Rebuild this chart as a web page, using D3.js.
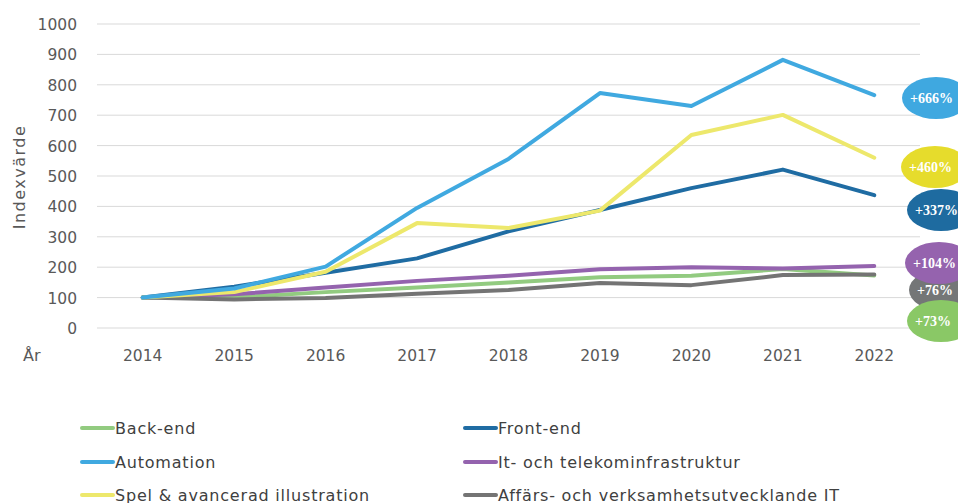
<!DOCTYPE html>
<html>
<head>
<meta charset="utf-8">
<script src="https://cdn.jsdelivr.net/npm/d3@7"></script>
<style>
  body { margin: 0; background: #fff; }
  .lbl { font-family: "DejaVu Sans", sans-serif; }
  .badge { font-family: "Liberation Serif", "DejaVu Serif", serif; font-weight: bold; }
</style>
</head>
<body>
<div id="chart"></div>
<script>
// data
const years = ["2014", "2015", "2016", "2017", "2018", "2019", "2020", "2021", "2022"];
const yTicks = [0, 100, 200, 300, 400, 500, 600, 700, 800, 900, 1000];

const backEnd = [100, 101, 118, 133, 150, 167, 172, 194, 173];
const frontEnd = [100, 136, 182, 229, 318, 388, 460, 521, 437];
const automation = [100, 130, 202, 395, 556, 773, 730, 882, 766];
const itTelekom = [100, 111, 133, 155, 172, 193, 200, 196, 204];
const spel = [100, 118, 185, 345, 329, 386, 635, 701, 560];
const affars = [100, 94, 99, 113, 125, 148, 141, 174, 176];

const seriesNames = ["Back-end", "Front-end", "Automation", "It- och telekominfrastruktur",
  "Spel & avancerad illustration", "Affärs- och verksamhetsutvecklande IT"];
const seriesValues = [backEnd, frontEnd, automation, itTelekom, spel, affars];
const seriesColors = ["#92cb80", "#1f6ca3", "#40a9e0", "#9463ae", "#ede86c", "#747474"];

// badges at the right edge, drawn in this order
const badgeLabels = ["+666%", "+460%", "+337%", "+76%", "+104%", "+73%"];
const badgeColors = ["#3fa8e0", "#e6dc2c", "#1e6ba0", "#747677", "#9563ae", "#8ac866"];
const badgeY = [98, 167, 210, 290, 263, 321];
const badgeX = [936, 935, 941, 943, 939, 941];

const width = 958, height = 503;
const svg = d3.select("#chart").append("svg")
  .attr("width", width)
  .attr("height", height);

const x = d3.scalePoint().domain(years).range([97, 920]).padding(0.5);
const y = d3.scaleLinear().domain([0, 1000]).range([328, 24]);

// gridlines
svg.append("g").selectAll("line")
  .data(yTicks)
  .enter().append("line")
  .attr("x1", 97).attr("x2", 920)
  .attr("y1", d => y(d)).attr("y2", d => y(d))
  .attr("stroke", "#d9d9d9")
  .attr("stroke-width", 1);

// y tick labels
svg.append("g").selectAll("text")
  .data(yTicks)
  .enter().append("text")
  .attr("class", "lbl")
  .attr("x", 77)
  .attr("y", d => y(d) + 6)
  .attr("text-anchor", "end")
  .attr("font-size", 15.5)
  .attr("fill", "#595959")
  .text(d => d);

// x tick labels
svg.append("g").selectAll("text")
  .data(years)
  .enter().append("text")
  .attr("class", "lbl")
  .attr("x", d => x(d))
  .attr("y", 361)
  .attr("text-anchor", "middle")
  .attr("font-size", 15.5)
  .attr("fill", "#595959")
  .text(d => d);

svg.append("text")
  .attr("class", "lbl")
  .attr("x", 23).attr("y", 361)
  .attr("font-size", 16)
  .attr("fill", "#595959")
  .text("År");

svg.append("text")
  .attr("class", "lbl")
  .attr("transform", "translate(25,177) rotate(-90)")
  .attr("text-anchor", "middle")
  .attr("font-size", 16)
  .attr("letter-spacing", 1.5)
  .attr("fill", "#595959")
  .text("Indexvärde");

// lines
const line = d3.line()
  .x((d, i) => x(years[i]))
  .y(d => y(d));

const drawOrder = [0, 3, 5, 1, 4, 2];
svg.append("g").selectAll("path")
  .data(drawOrder)
  .enter().append("path")
  .attr("d", k => line(seriesValues[k]))
  .attr("fill", "none")
  .attr("stroke", k => seriesColors[k])
  .attr("stroke-width", 4)
  .attr("stroke-linejoin", "round")
  .attr("stroke-linecap", "round");

// badges
const badge = svg.append("g").selectAll("g")
  .data(badgeLabels)
  .enter().append("g")
  .attr("transform", (d, i) => "translate(" + badgeX[i] + "," + badgeY[i] + ")");

badge.append("ellipse")
  .attr("rx", 34)
  .attr("ry", 21)
  .attr("fill", (d, i) => badgeColors[i]);

badge.append("text")
  .attr("class", "badge")
  .attr("x", -26)
  .attr("y", 5)
  .attr("font-size", 14)
  .attr("fill", "#fff")
  .text(d => d);

// legend
const legendX = [82, 465];
const legendY = [428, 462, 495];
const legend = svg.append("g").selectAll("g")
  .data(seriesNames)
  .enter().append("g")
  .attr("transform", (d, i) => "translate(" + legendX[i % 2] + "," + legendY[Math.floor(i / 2)] + ")");

legend.append("line")
  .attr("x1", 0).attr("x2", 31)
  .attr("stroke", (d, i) => seriesColors[i])
  .attr("stroke-width", 4)
  .attr("stroke-linecap", "round");

legend.append("text")
  .attr("class", "lbl")
  .attr("x", 33)
  .attr("y", 6)
  .attr("font-size", 16)
  .attr("letter-spacing", 0.8)
  .attr("fill", "#404040")
  .text(d => d);
</script>
</body>
</html>
